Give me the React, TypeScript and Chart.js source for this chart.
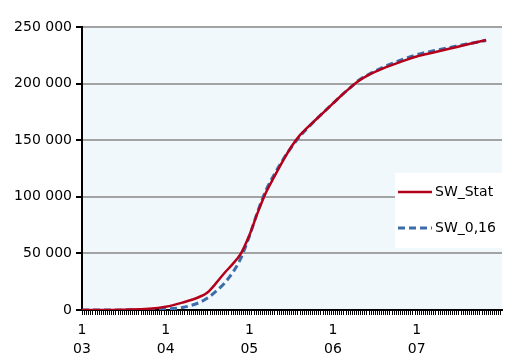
import { useEffect, useRef } from 'react';
import { Chart, registerables } from 'chart.js';

Chart.register(...registerables);

// x values are log10 exponents (axis labelled 1E03 ... 1E07)
const statX = [3.0, 3.5, 3.8, 4.0, 4.2, 4.4, 4.5, 4.6, 4.7, 4.8, 4.9, 5.0, 5.1, 5.2, 5.3, 5.4, 5.5, 5.6, 5.7, 5.8, 5.9, 6.0, 6.1, 6.2, 6.3, 6.45, 6.6, 6.8, 7.0, 7.2, 7.4, 7.6, 7.83];
const statY = [0, 300, 1000, 2800, 6500, 11500, 15500, 23500, 32500, 40500, 50000, 66000, 86000, 104000, 118000, 131500, 144000, 154000, 161500, 168500, 175500, 182500, 189500, 196000, 202000, 208500, 213500, 219000, 224000, 227500, 231000, 234500, 238500];

const fitX = [3.0, 3.6, 4.0, 4.2, 4.4, 4.5, 4.6, 4.7, 4.8, 4.9, 5.0, 5.1, 5.2, 5.3, 5.4, 5.5, 5.6, 5.7, 5.8, 5.9, 6.0, 6.1, 6.2, 6.3, 6.45, 6.6, 6.8, 7.0, 7.2, 7.4, 7.6, 7.83];
const fitY = [0, 150, 800, 2200, 6500, 10500, 16500, 23500, 33000, 46000, 65000, 87000, 106000, 120000, 132500, 143500, 153000, 161000, 168500, 175500, 182500, 189500, 196000, 202500, 209000, 214500, 220500, 225500, 229000, 232000, 235000, 238000];

const seriesNames = ['SW_Stat', 'SW_0,16'];
const xMajorExponents = [3, 4, 5, 6, 7];
const xMinorPerDecade = 40;
const yMax = 250000;
const yStep = 50000;

const FONT = 'DejaVu Sans';

const fmt = (v: number) => String(v).replace(/\B(?=(\d{3})+(?!\d))/g, ' ');

const bgPlugin = {
  id: 'plotBg',
  beforeDraw(chart: any) {
    const { ctx, chartArea: a } = chart;
    ctx.save();
    ctx.fillStyle = '#F1F8FC';
    ctx.fillRect(a.left, a.top, a.right - a.left, a.bottom - a.top);
    ctx.restore();
  },
};

const tickPlugin = {
  id: 'tickMarks',
  afterDraw(chart: any) {
    const { ctx, chartArea: a, scales } = chart;
    ctx.save();
    ctx.strokeStyle = '#000';
    ctx.lineWidth = 1;
    ctx.beginPath();
    scales.x.ticks.forEach((t: any) => {
      const px = Math.round(scales.x.getPixelForValue(t.value)) + 0.5;
      ctx.moveTo(px, a.bottom + 1);
      ctx.lineTo(px, a.bottom + 5);
    });
    ctx.stroke();
    ctx.lineWidth = 2;
    ctx.beginPath();
    scales.y.ticks.forEach((t: any) => {
      const py = Math.round(scales.y.getPixelForValue(t.value));
      ctx.moveTo(a.left - 6, py);
      ctx.lineTo(a.left, py);
    });
    ctx.stroke();
    ctx.restore();
  },
};

const legendPlugin = {
  id: 'boxLegend',
  afterDatasetsDraw(chart: any) {
    const { ctx, chartArea: a } = chart;
    const right = a.right + 1;
    const left = right - 108;
    const top = 173;
    const h = 75;
    ctx.save();
    ctx.fillStyle = '#FFFFFF';
    ctx.fillRect(left, top, right - left, h);
    chart.data.datasets.forEach((ds: any, i: number) => {
      const y = top + 19 + i * 36;
      ctx.beginPath();
      ctx.strokeStyle = ds.borderColor;
      ctx.lineWidth = ds.borderWidth;
      ctx.setLineDash(ds.borderDash || []);
      ctx.moveTo(left + 3, y);
      ctx.lineTo(left + 37, y);
      ctx.stroke();
      ctx.setLineDash([]);
      ctx.fillStyle = '#000';
      ctx.font = `14px "${FONT}"`;
      ctx.textBaseline = 'middle';
      ctx.textAlign = 'left';
      ctx.fillText(ds.label, left + 40, y);
    });
    ctx.restore();
  },
};

export default function App() {
  const ref = useRef<HTMLCanvasElement>(null);
  useEffect(() => {
    if (!ref.current) return;
    const chart = new Chart(ref.current, {
      type: 'line',
      data: {
        datasets: [
          {
            label: seriesNames[0],
            data: statX.map((x, i) => ({ x, y: statY[i] })),
            borderColor: '#B3001B',
            borderWidth: 2.5,
            pointRadius: 0,
            cubicInterpolationMode: 'monotone',
            fill: false,
          },
          {
            label: seriesNames[1],
            data: fitX.map((x, i) => ({ x, y: fitY[i] })),
            borderColor: '#3D6DA8',
            borderWidth: 3,
            borderDash: [7, 4],
            pointRadius: 0,
            cubicInterpolationMode: 'monotone',
            fill: false,
          },
        ],
      },
      options: {
        animation: false,
        responsive: false,
        layout: { padding: { left: 0, top: 27, right: 16, bottom: 0 } },
        plugins: { legend: { display: false }, tooltip: { enabled: false } },
        scales: {
          x: {
            type: 'linear',
            min: 3,
            max: 8.02,
            afterBuildTicks(scale: any) {
              const ticks = [];
              for (let k = 0; k <= 5 * xMinorPerDecade; k++) {
                const v = 3 + k / xMinorPerDecade;
                if (v <= 8.02) ticks.push({ value: v });
              }
              scale.ticks = ticks;
            },
            afterFit(scale: any) {
              scale.height = 60;
            },
            ticks: {
              autoSkip: false,
              maxRotation: 0,
              minRotation: 0,
              padding: 3,
              color: '#000',
              font: { family: FONT, size: 14, lineHeight: 1.35 },
              callback(v: any) {
                const n = Math.round(v);
                if (Math.abs(v - n) < 1e-6 && xMajorExponents.includes(n)) {
                  return ['1', String(n).padStart(2, '0')];
                }
                return '';
              },
            },
            grid: {
              display: false,
            },
            border: { display: true, color: '#000', width: 2 },
          },
          y: {
            min: 0,
            max: yMax,
            afterFit(scale: any) {
              scale.width = 82;
            },
            ticks: {
              stepSize: yStep,
              padding: 4,
              color: '#000',
              font: { family: FONT, size: 14 },
              callback: (v: any) => fmt(v),
            },
            grid: {
              color: '#A3A3A3',
              lineWidth: 2,
              tickLength: 6,
              drawTicks: true,
              tickColor: '#000',
            },
            border: { display: true, color: '#000', width: 2 },
          },
        },
      },
      plugins: [bgPlugin, legendPlugin, tickPlugin],
    } as any);
    return () => chart.destroy();
  }, []);
  return (
    <div style={{ position: 'fixed', left: 0, top: 0, width: 518, height: 356, overflow: 'hidden', background: '#fff' }}>
      <canvas ref={ref} width={518} height={370} style={{ display: 'block' }} />
    </div>
  );
}
